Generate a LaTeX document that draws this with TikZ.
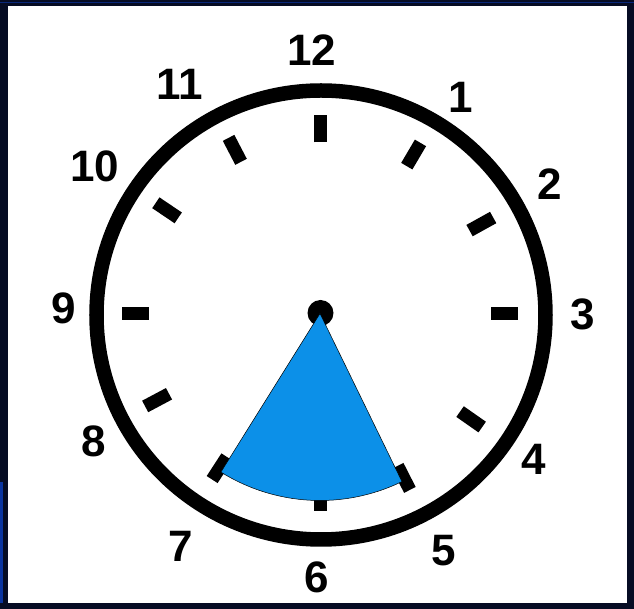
\documentclass[tikz,border=0pt]{standalone}
\usepackage{fontspec}
\setmainfont{Liberation Sans}
\usepackage{tikz}
\usetikzlibrary{positioning}
\definecolor{frameblue}{RGB}{6,12,36}
\definecolor{edgeblue}{RGB}{10,52,160}
\definecolor{wedgeblue}{RGB}{12,144,232}

\begin{document}
\begin{tikzpicture}[
    x=1pt, y=1pt,
    hour/.style={inner sep=0pt, font=\fontsize{44}{44}\selectfont\bfseries},
    tick/.style={line width=13pt, black},
    rim/.style={line width=14.5pt, black}
]

% Frame and page
\fill[frameblue] (-320,-295.5) rectangle (314,313.5);
\fill[edgeblue] (-320,-168.5) rectangle (-317,-289.5);
\fill[edgeblue!70!frameblue] (-320,311.5) rectangle (314,310);
\fill[white] (-312,-289.5) rectangle (307,307.5);

% Clock face
\draw[rim] (1,-1.5) circle (224.5);
\foreach \a in {90,59.5,29,0,325,297,270,237,208,180,146,117.5}
  \draw[tick] (\a:171) -- (\a:198);

% Centre and the shaded wedge from 7 to 5
\fill[black] (0.5,0.5) circle (13);
\filldraw[fill=wedgeblue, draw=black, line width=0.5pt]
  (0,0) -- (238:187) arc[start angle=238, end angle=296, radius=187] -- cycle;

% Hour numbers
\node[hour] (h12) at (-8,263.5) {12};
\node[hour] (h1) at (141,216) {1};
\node[hour] (h2) at (230,129.5) {2};
\node[hour] (h3) at (262.5,-0.5) {3};
\node[hour] (h4) at (214,-145.5) {4};
\node[hour] (h5) at (124,-237.5) {5};
\node[hour] (h6) at (-3,-264) {6};
\node[hour] (h7) at (-139,-233) {7};
\node[hour] (h8) at (-226.5,-128) {8};
\node[hour] (h9) at (-256.5,5.5) {9};
\node[hour] (h10) at (-225,147.5) {10};
\node[hour] (h11) at (-140,229.5) {11};

\end{tikzpicture}
\end{document}
